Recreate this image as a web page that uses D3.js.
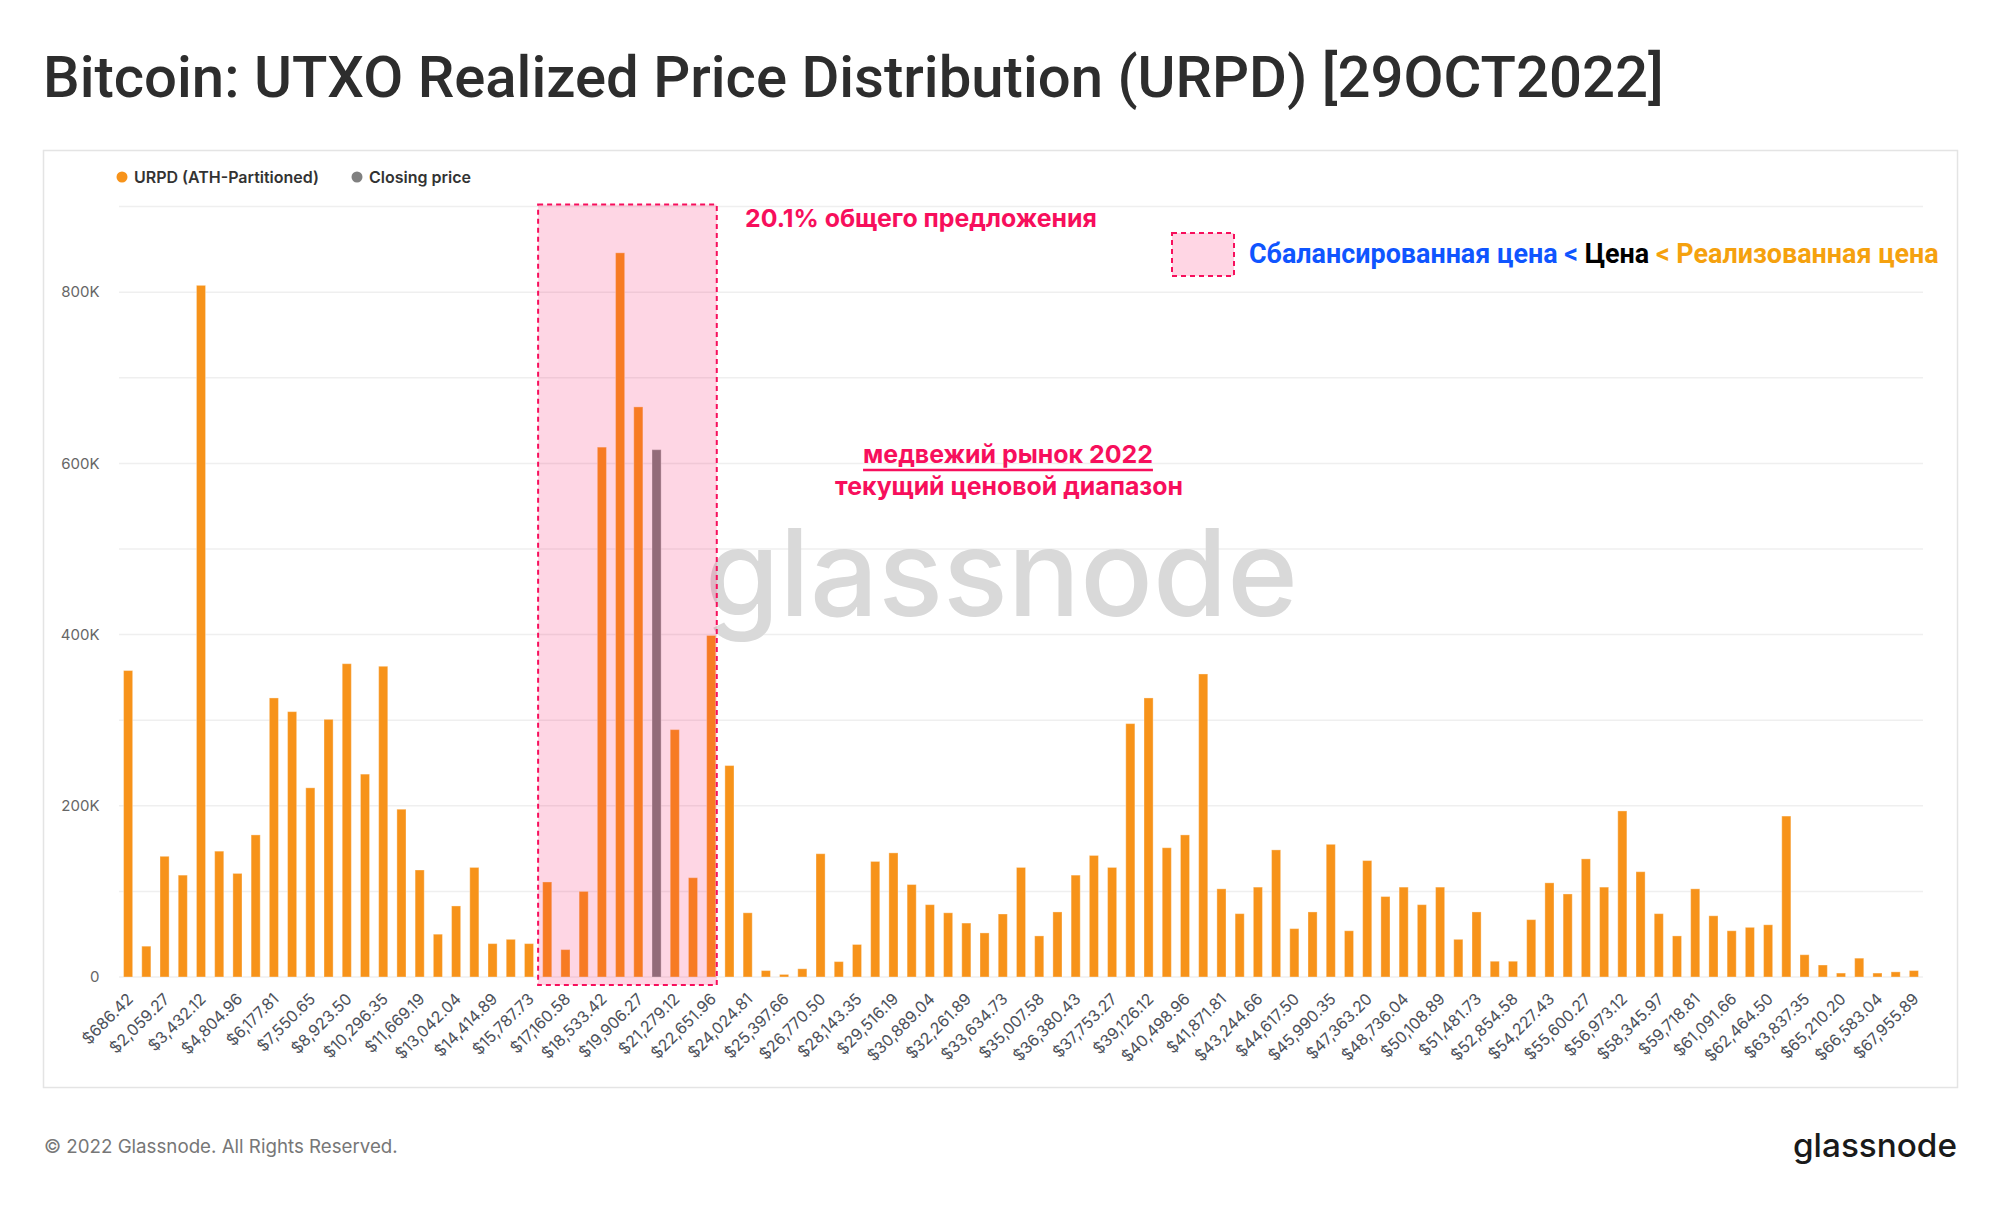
<!DOCTYPE html>
<html>
<head>
<meta charset="utf-8">
<title>Bitcoin: UTXO Realized Price Distribution (URPD)</title>
<script src="https://cdn.jsdelivr.net/npm/d3@7"></script>
<style>
    body { margin: 0; background: #ffffff; }
    svg { display: block; }
</style>
</head>
<body>
<script>
//chart data
var bucketLabels = ["$686.42", "$2,059.27", "$3,432.12", "$4,804.96", "$6,177.81", "$7,550.65",
    "$8,923.50", "$10,296.35", "$11,669.19", "$13,042.04", "$14,414.89", "$15,787.73",
    "$17,160.58", "$18,533.42", "$19,906.27", "$21,279.12", "$22,651.96", "$24,024.81",
    "$25,397.66", "$26,770.50", "$28,143.35", "$29,516.19", "$30,889.04", "$32,261.89",
    "$33,634.73", "$35,007.58", "$36,380.43", "$37,753.27", "$39,126.12", "$40,498.96",
    "$41,871.81", "$43,244.66", "$44,617.50", "$45,990.35", "$47,363.20", "$48,736.04",
    "$50,108.89", "$51,481.73", "$52,854.58", "$54,227.43", "$55,600.27", "$56,973.12",
    "$58,345.97", "$59,718.81", "$61,091.66", "$62,464.50", "$63,837.35", "$65,210.20",
    "$66,583.04", "$67,955.89"];

//BTC held in each price bucket (one bar per bucket)
var urpdValues = [
    358000, 36000, 141000, 119000, 808000, 147000, 121000, 166000, 326000, 310000,
    221000, 301000, 366000, 237000, 363000, 196000, 125000, 50000, 83000, 128000,
    39000, 44000, 39000, 111000, 32000, 100000, 619000, 846000, 666000, 616000,
    289000, 116000, 399000, 247000, 75000, 7500, 3000, 9600, 144000, 18000,
    38000, 135000, 145000, 108000, 84500, 75000, 63000, 51500, 73600, 128000,
    48000, 76000, 119000, 142000, 128000, 296000, 326000, 151000, 166000, 354000,
    103000, 74000, 105000, 148500, 56500, 76000, 155000, 54000, 136000, 94000,
    105000, 84500, 105000, 44000, 76000, 18400, 18400, 67000, 110000, 97000,
    138000, 105000, 194000, 123000, 74000, 48000, 103000, 71500, 54000, 58000,
    61000, 188000, 26000, 14000, 4600, 22000, 4600, 6000, 7500];

//bucket that holds the closing price
var closingBucket = 29;

//buckets of the 2022 bear market range (first, last)
var bearRange = [23, 32];

var yTicks = [0, 200000, 400000, 600000, 800000];
var yGrid = [0, 100000, 200000, 300000, 400000, 500000, 600000, 700000, 800000, 900000];

var seriesNames = ["URPD (ATH-Partitioned)", "Closing price"];
var seriesColors = ["#f7931a", "#808080"];

var pink = "#f70f5c";

window.onload = drawChart;

//fit a text element to a width by changing its font size
function fitWidth(sel, w){
    var cur = sel.node().getComputedTextLength();
    var fs = parseFloat(sel.attr("font-size"));
    sel.attr("font-size", fs * w / cur);
}

function drawChart(){

    var width = 2000,
        height = 1208;

    var svg = d3.select("body")
        .append("svg")
        .attr("width", width)
        .attr("height", height);

    //title
    var title = svg.append("text")
        .attr("x", 43)
        .attr("y", 97)
        .attr("font-family", "Roboto")
        .attr("font-weight", 500)
        .attr("font-size", 54)
        .attr("fill", "#2d2d2d")
        .text("Bitcoin: UTXO Realized Price Distribution (URPD) [29OCT2022]");
    fitWidth(title, 1621);

    //card frame
    svg.append("rect")
        .attr("x", 43.5)
        .attr("y", 150.5)
        .attr("width", 1914)
        .attr("height", 937)
        .attr("fill", "#ffffff")
        .attr("stroke", "#e4e4e4")
        .attr("stroke-width", 1.5);

    //scales
    var x = d3.scaleBand()
        .domain(d3.range(urpdValues.length))
        .range([119, 1923])
        .paddingInner(0.5)
        .paddingOuter(0.25);

    var y = d3.scaleLinear()
        .domain([0, 900000])
        .range([977, 206.6]);

    //grid lines
    svg.append("g")
        .selectAll("line")
        .data(yGrid)
        .enter()
        .append("line")
        .attr("x1", 119)
        .attr("x2", 1923)
        .attr("y1", function(d){ return y(d); })
        .attr("y2", function(d){ return y(d); })
        .attr("stroke", "#efefef")
        .attr("stroke-width", 1.5);

    //watermark
    var mark = svg.append("text")
        .attr("x", 705)
        .attr("y", 616)
        .attr("font-family", "Inter")
        .attr("font-weight", 500)
        .attr("font-size", 130)
        .attr("fill", "#d9d9d9")
        .text("glassnode");
    fitWidth(mark, 593);

    //bars
    svg.append("g")
        .selectAll("rect")
        .data(urpdValues)
        .enter()
        .append("rect")
        .attr("x", function(d, i){ return x(i); })
        .attr("width", x.bandwidth())
        .attr("y", function(d){ return y(d); })
        .attr("height", function(d){ return y(0) - y(d); })
        .attr("fill", function(d, i){
            return i == closingBucket ? seriesColors[1] : seriesColors[0];
        })
        .attr("stroke", "rgba(255,255,255,0.35)")
        .attr("stroke-width", 1);

    //bear market range box
    var boxLeft = x(bearRange[0]) - x.step() * x.paddingInner() / 2,
        boxRight = x(bearRange[1]) + x.bandwidth() + 1;
    svg.append("rect")
        .attr("x", boxLeft)
        .attr("y", y(900000) - 2)
        .attr("width", boxRight - boxLeft)
        .attr("height", y(0) + 8 - (y(900000) - 2))
        .attr("fill", "rgba(246,0,90,0.16)")
        .attr("stroke", pink)
        .attr("stroke-width", 2)
        .attr("stroke-dasharray", "5,4");

    //y axis labels
    svg.append("g")
        .selectAll("text")
        .data(yTicks)
        .enter()
        .append("text")
        .attr("x", 99.5)
        .attr("y", function(d){ return y(d); })
        .attr("dy", "0.35em")
        .attr("text-anchor", "end")
        .attr("font-family", "Inter")
        .attr("font-size", 15)
        .attr("fill", "#666666")
        .text(function(d){ return d == 0 ? "0" : (d / 1000) + "K"; });

    //x axis
    var xAxis = d3.axisBottom(x)
        .tickValues(d3.range(0, urpdValues.length, 2))
        .tickFormat(function(i){ return bucketLabels[i / 2]; })
        .tickSize(0);

    var xg = svg.append("g")
        .attr("transform", "translate(0," + y(0) + ")")
        .call(xAxis);
    xg.select(".domain").remove();
    xg.selectAll("text")
        .attr("x", 0)
        .attr("y", 0)
        .attr("dy", 0)
        .attr("transform", "translate(6,23) rotate(-45)")
        .attr("text-anchor", "end")
        .attr("font-family", "Inter")
        .attr("font-size", 16)
        .attr("fill", "#4d515a");

    //legend
    var legendX = [122, 357],
        legendW = [185, 102];
    var legend = svg.append("g")
        .selectAll("g")
        .data(seriesNames)
        .enter()
        .append("g")
        .attr("transform", function(d, i){ return "translate(" + legendX[i] + ",177)"; });
    legend.append("circle")
        .attr("r", 5.5)
        .attr("fill", function(d, i){ return seriesColors[i]; });
    legend.append("text")
        .attr("x", 12)
        .attr("dy", "0.35em")
        .attr("font-family", "Inter")
        .attr("font-weight", 600)
        .attr("font-size", 15)
        .attr("fill", "#333333")
        .text(function(d){ return d; })
        .each(function(d, i){ fitWidth(d3.select(this), legendW[i]); });

    //annotations
    var share = svg.append("text")
        .attr("x", 745)
        .attr("y", 227)
        .attr("font-family", "Inter")
        .attr("font-weight", 700)
        .attr("font-size", 24)
        .attr("fill", pink)
        .text("20.1% общего предложения");
    fitWidth(share, 352);

    var bear1 = svg.append("text")
        .attr("x", 1008)
        .attr("y", 463)
        .attr("text-anchor", "middle")
        .attr("font-family", "Inter")
        .attr("font-weight", 700)
        .attr("font-size", 24)
        .attr("fill", pink)
        .text("медвежий рынок 2022");
    fitWidth(bear1, 290);
    var bb = bear1.node().getBBox();
    svg.append("line")
        .attr("x1", bb.x)
        .attr("x2", bb.x + bb.width)
        .attr("y1", 470)
        .attr("y2", 470)
        .attr("stroke", pink)
        .attr("stroke-width", 2.5);

    var bear2 = svg.append("text")
        .attr("x", 1009)
        .attr("y", 495)
        .attr("text-anchor", "middle")
        .attr("font-family", "Inter")
        .attr("font-weight", 700)
        .attr("font-size", 24)
        .attr("fill", pink)
        .text("текущий ценовой диапазон");
    fitWidth(bear2, 348);

    //price order key
    svg.append("rect")
        .attr("x", 1172)
        .attr("y", 233)
        .attr("width", 62)
        .attr("height", 43)
        .attr("fill", "#ffd6e4")
        .attr("stroke", pink)
        .attr("stroke-width", 2)
        .attr("stroke-dasharray", "5,4");

    var key = svg.append("text")
        .attr("x", 1249)
        .attr("y", 263)
        .attr("font-family", "Roboto")
        .attr("font-weight", 700)
        .attr("font-size", 23);
    key.append("tspan").attr("fill", "#0f55ff").text("Сбалансированная цена <");
    key.append("tspan").attr("fill", "#000000").text(" Цена ");
    key.append("tspan").attr("fill", "#f5a10e").text("< Реализованная цена");
    fitWidth(key, 690);

    //footer
    var copy = svg.append("text")
        .attr("x", 44)
        .attr("y", 1153)
        .attr("font-family", "Inter")
        .attr("font-size", 19)
        .attr("fill", "#777777")
        .text("© 2022 Glassnode. All Rights Reserved.");
    fitWidth(copy, 354);

    var logo = svg.append("text")
        .attr("x", 1793)
        .attr("y", 1157)
        .attr("font-family", "Inter")
        .attr("font-weight", 500)
        .attr("font-size", 33)
        .attr("fill", "#1a1a1a")
        .text("glassnode");
    fitWidth(logo, 164);
};
</script>
</body>
</html>
